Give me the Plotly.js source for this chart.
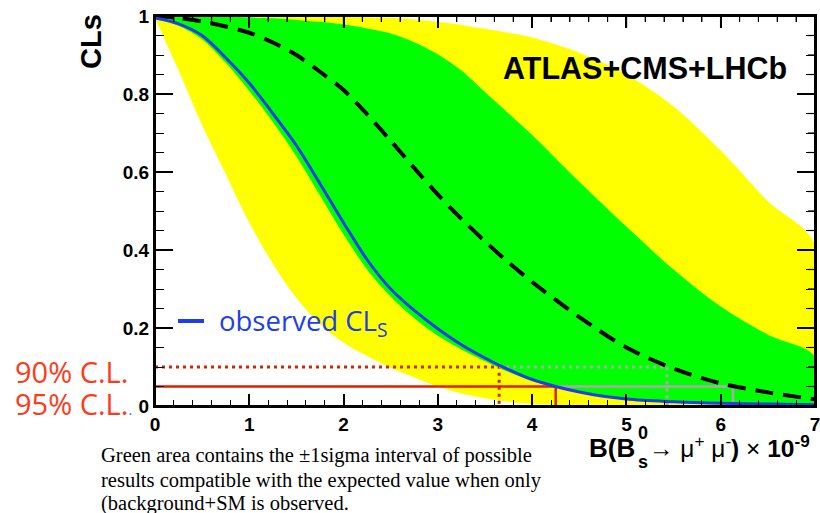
<!DOCTYPE html>
<html>
<head>
<meta charset="utf-8">
<script src="https://cdn.plot.ly/plotly-3.0.1.min.js"></script>
<style>html,body{margin:0;padding:0;background:#fff;overflow:hidden}#wrap{position:relative;width:820px;height:513px}#plot{width:820px;height:513px}#frame{position:absolute;left:0;top:0;width:820px;height:513px;pointer-events:none;z-index:5}</style>
</head>
<body>
<div id="wrap"><div id="plot"></div><svg id="frame" xmlns="http://www.w3.org/2000/svg" width="820" height="513"></svg></div>
<script>
// Branching fraction grid (x 10^-9)
const bf = [0,0.25,0.5,0.75,1,1.25,1.5,1.75,2,2.25,2.5,2.75,3,3.25,3.5,3.75,4,4.5,5,5.5,6,6.5,7];
// Observed CLs
const observed = [0.995,0.98,0.95,0.893,0.828,0.75,0.668,0.57,0.47,0.375,0.3,0.245,0.198,0.157,0.123,0.093,0.068,0.036,0.018,0.011,0.007,0.005,0.003];
// Expected CLs (median)
const expected = [1.0,0.995,0.986,0.973,0.957,0.932,0.9,0.857,0.81,0.748,0.68,0.61,0.542,0.48,0.422,0.368,0.318,0.228,0.15,0.096,0.058,0.035,0.017];
// +-1 sigma band
const sigma1Low  = [0.995,0.975,0.94,0.88,0.808,0.728,0.64,0.54,0.44,0.35,0.28,0.225,0.18,0.145,0.115,0.087,0.064,0.034,0.017,0.01,0.006,0.004,0.002];
const sigma1High = [1,1,0.999,0.998,0.996,0.994,0.99,0.985,0.978,0.968,0.955,0.933,0.902,0.86,0.805,0.75,0.695,0.575,0.46,0.35,0.255,0.183,0.127];
// +-2 sigma band
const sigma2Low  = [0.995,0.86,0.72,0.595,0.47,0.365,0.277,0.21,0.162,0.128,0.098,0.073,0.05,0.032,0.02,0.011,0.005,0.001,0,0,0,0,0];
const sigma2High = [1,1,1,1,1,1,1,0.999,0.998,0.997,0.995,0.991,0.985,0.977,0.967,0.957,0.945,0.906,0.85,0.768,0.655,0.525,0.415];
// Confidence-level limits
const clLevels = [0.10, 0.05];          // 90% and 95% C.L.
const obsLimits = [3.65, 4.25];
const expLimits = [5.43, 6.13];
// Axis ticks
const xRange = [0, 7], yRange = [0, 1];
const xTicks = [0,1,2,3,4,5,6,7];
const xTickText = ['0','1','2','3','4','5','6','7'];
const yTicks = [0,0.2,0.4,0.6,0.8,1];
const yTickText = ['0','0.2','0.4','0.6','0.8','1'];
const xMinor = 0.2, yMinor = 0.05;

function band(lo, hi) {
  return {x: bf.concat(bf.slice().reverse()), y: hi.concat(lo.slice().reverse())};
}
const b2 = band(sigma2Low, sigma2High);
const b1 = band(sigma1Low, sigma1High);
function steps(r, d) { const a = []; for (let i = 0; r[0] + i * d <= r[1] + 1e-9; i++) a.push(+(r[0] + i * d).toFixed(4)); return a; }
const xMinorTicks = steps(xRange, xMinor), yMinorTicks = steps(yRange, yMinor);

const red = '#dd2200', grey = '#aaaaaa';
const sp = {shape: 'spline', smoothing: 0.9};
const traces = [
  {x: b2.x, y: b2.y, fill: 'toself', fillcolor: '#ffff00', line: Object.assign({width: 0}, sp), mode: 'lines', hoverinfo: 'skip'},
  {x: b1.x, y: b1.y, fill: 'toself', fillcolor: '#00ff00', line: Object.assign({width: 0}, sp), mode: 'lines', hoverinfo: 'skip'},
  // 90% CL lines
  {x: [0, obsLimits[0], obsLimits[0]], y: [clLevels[0], clLevels[0], 0], mode: 'lines', line: {color: red, width: 3, dash: '3px,4px'}},
  {x: [obsLimits[0], expLimits[0], expLimits[0]], y: [clLevels[0], clLevels[0], 0], mode: 'lines', line: {color: grey, width: 3, dash: '3px,4px'}},
  // 95% CL lines
  {x: [0, obsLimits[1], obsLimits[1]], y: [clLevels[1], clLevels[1], 0], mode: 'lines', line: {color: red, width: 2.5}},
  {x: [obsLimits[1], expLimits[1], expLimits[1]], y: [clLevels[1], clLevels[1], 0], mode: 'lines', line: {color: grey, width: 2.5}},
  {x: bf, y: expected, mode: 'lines', line: Object.assign({color: '#000', width: 4, dash: '18px,10px'}, sp)},
  {x: bf, y: observed, mode: 'lines', line: Object.assign({color: '#1d3ee8', width: 3}, sp)}
];

const L = 155, T = 16, W = 660, H = 390;
const px = p => (p - L) / W;
const py = p => (T + H - p) / H;

const labFont = {family: 'Open Sans, sans-serif', size: 29, color: '#ff3a1a'};
const capFont = {family: 'Liberation Serif, Times New Roman, serif', size: 20.5, color: '#000'};
const sans = 'Liberation Sans, Arial, sans-serif';
const ann = [
  {xref: 'paper', yref: 'paper', x: px(13), y: py(371), xanchor: 'left', yanchor: 'middle', showarrow: false, text: '90% C.L.', font: labFont},
  {xref: 'paper', yref: 'paper', x: px(13), y: py(403), xanchor: 'left', yanchor: 'middle', showarrow: false, text: '95% C.L.<span style="color:#4a86f0;font-size:16px">.</span>', font: labFont},
  {xref: 'paper', yref: 'paper', x: px(645), y: py(68), xanchor: 'center', yanchor: 'middle', showarrow: false, text: '<b>ATLAS+CMS+LHCb</b>', font: {family: sans, size: 30.5, color: '#000'}},
  {xref: 'paper', yref: 'paper', x: px(91), y: py(42), xanchor: 'center', yanchor: 'middle', textangle: -90, showarrow: false, text: '<b>CLs</b>', font: {family: sans, size: 29, color: '#000'}},
  {xref: 'paper', yref: 'paper', x: px(217), y: py(322), xanchor: 'left', yanchor: 'middle', showarrow: false, text: 'observed CL<sub>S</sub>', font: {family: 'Open Sans, sans-serif', size: 27.5, color: '#1d3ee8'}},
  // x-axis title pieces
  {xref: 'paper', yref: 'paper', x: px(637), y: py(448), xanchor: 'right', yanchor: 'middle', showarrow: false, text: '<b>B(B</b>', font: {family: sans, size: 26, color: '#000'}},
  {xref: 'paper', yref: 'paper', x: px(636), y: py(433), xanchor: 'left', yanchor: 'middle', showarrow: false, text: '<b>0</b>', font: {family: sans, size: 18, color: '#000'}},
  {xref: 'paper', yref: 'paper', x: px(636), y: py(462), xanchor: 'left', yanchor: 'middle', showarrow: false, text: '<b>s</b>', font: {family: sans, size: 18, color: '#000'}},
  {xref: 'paper', yref: 'paper', x: px(812), y: py(446), xanchor: 'right', yanchor: 'middle', showarrow: false, text: '→ μ<sup>+</sup> μ<sup>-</sup><b>)</b> × <b>10<sup>-9</sup></b>', font: {family: sans, size: 24.5, color: '#000'}},
  // caption
  {xref: 'paper', yref: 'paper', x: px(99), y: py(455), xanchor: 'left', yanchor: 'middle', showarrow: false, text: 'Green area contains the ±1sigma interval of possible', font: capFont},
  {xref: 'paper', yref: 'paper', x: px(99), y: py(480), xanchor: 'left', yanchor: 'middle', showarrow: false, text: 'results compatible with the expected value when only', font: capFont},
  {xref: 'paper', yref: 'paper', x: px(99), y: py(503), xanchor: 'left', yanchor: 'middle', showarrow: false, text: '(background+SM is observed.', font: capFont}
];

const shapes = [
  {type: 'line', xref: 'paper', yref: 'paper', x0: px(178), x1: px(204), y0: py(321), y1: py(321), line: {color: '#1d3ee8', width: 4}}
];

const tickFont = {family: sans, size: 19, color: '#000'};
const bold = a => a.map(t => '<b>' + t + '</b>');
const layout = {
  width: 820, height: 513,
  margin: {l: L, r: 820 - L - W, t: T, b: 513 - T - H},
  paper_bgcolor: '#fff', plot_bgcolor: '#fff',
  showlegend: false,
  xaxis: {range: xRange, tickmode: 'array', tickvals: xTicks, ticktext: bold(xTickText), ticks: 'inside', ticklen: 12, tickwidth: 1.5, tickcolor: '#000',
    showline: true, linecolor: '#000', linewidth: 2, mirror: 'allticks', showgrid: false, zeroline: false, tickfont: tickFont, ticklabeloverflow: 'allow',
    minor: {tickmode: 'array', tickvals: xMinorTicks, ticks: 'inside', ticklen: 6, tickwidth: 1.2, tickcolor: '#000', showgrid: false}},
  yaxis: {range: yRange, tickmode: 'array', tickvals: yTicks, ticktext: bold(yTickText), ticks: 'inside', ticklen: 18, tickwidth: 1.5, tickcolor: '#000',
    showline: true, linecolor: '#000', linewidth: 2, mirror: 'allticks', showgrid: false, zeroline: false, tickfont: tickFont, ticklabeloverflow: 'allow',
    minor: {tickmode: 'array', tickvals: yMinorTicks, ticks: 'inside', ticklen: 9, tickwidth: 1.2, tickcolor: '#000', showgrid: false}},
  annotations: ann,
  shapes: shapes
};
const gd = document.getElementById('plot');
Plotly.newPlot(gd, traces, layout, {displayModeBar: false});

// Top/right frame with mirrored ticks, placed with the plot's own axis scales
(function drawFrame() {
  let xp, yp, x0 = L, y0 = T, w = W, h = H;
  try {
    const fl = gd._fullLayout, xa = fl.xaxis, ya = fl.yaxis;
    x0 = fl._size.l; y0 = fl._size.t; w = fl._size.w; h = fl._size.h;
    xp = v => x0 + xa.l2p(v); yp = v => y0 + ya.l2p(v);
  } catch (e) {
    xp = v => L + (v - xRange[0]) / (xRange[1] - xRange[0]) * W;
    yp = v => T + H - (v - yRange[0]) / (yRange[1] - yRange[0]) * H;
  }
  const svg = document.getElementById('frame');
  let s = '<rect x="' + x0 + '" y="' + y0 + '" width="' + w + '" height="' + h + '" fill="none" stroke="#000" stroke-width="2"/>';
  const top = y0, right = x0 + w;
  xMinorTicks.forEach(v => { const X = xp(v); s += '<line x1="' + X + '" x2="' + X + '" y1="' + top + '" y2="' + (top + 6) + '" stroke="#000" stroke-width="1.2"/>'; });
  xTicks.forEach(v => { const X = xp(v); s += '<line x1="' + X + '" x2="' + X + '" y1="' + top + '" y2="' + (top + 12) + '" stroke="#000" stroke-width="1.5"/>'; });
  yMinorTicks.forEach(v => { const Y = yp(v); s += '<line x1="' + (right - 7) + '" x2="' + right + '" y1="' + Y + '" y2="' + Y + '" stroke="#000" stroke-width="1.2"/>'; });
  yTicks.forEach(v => { const Y = yp(v); s += '<line x1="' + (right - 15) + '" x2="' + right + '" y1="' + Y + '" y2="' + Y + '" stroke="#000" stroke-width="1.5"/>'; });
  svg.innerHTML = s;
})();
</script>
</body>
</html>
